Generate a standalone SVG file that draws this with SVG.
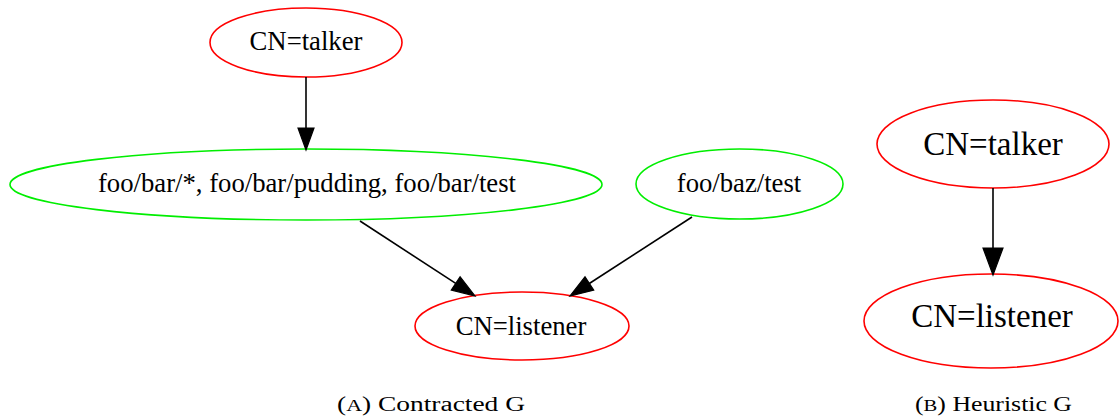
<svg xmlns="http://www.w3.org/2000/svg" width="1119" height="416" viewBox="0 0 1119 416">
<style>
.n{fill:none;stroke-width:1.6}
.r{stroke:#ff0000}
.g{stroke:#00ee00}
.e{stroke:#000;stroke-width:1.6;fill:none}
.h{fill:#000;stroke:#000;stroke-width:1.2}
</style>
<rect width="1119" height="416" fill="#fff"/>
<g id="a_talker">
<ellipse class="n r" cx="306" cy="42.5" rx="96" ry="34.5"/>
<text font-family="Liberation Serif, serif" font-size="26.7" text-anchor="middle" x="306" y="50">CN=talker</text>
</g>
<g id="a_foobar">
<ellipse class="n g" cx="306" cy="184.5" rx="296" ry="35.5"/>
<text font-family="Liberation Serif, serif" font-size="26.7" text-anchor="middle" x="307" y="192">foo/bar/*, foo/bar/pudding, foo/bar/test</text>
</g>
<g id="a_baz">
<ellipse class="n g" cx="739.5" cy="184" rx="103.5" ry="35"/>
<text font-family="Liberation Serif, serif" font-size="26.7" text-anchor="middle" x="739" y="192">foo/baz/test</text>
</g>
<g id="a_listener">
<ellipse class="n r" cx="522" cy="326" rx="107" ry="34"/>
<text font-family="Liberation Serif, serif" font-size="26.7" text-anchor="middle" x="521" y="335">CN=listener</text>
</g>
<g id="b_talker">
<ellipse class="n r" cx="993" cy="144" rx="116" ry="44" stroke-width="2"/>
<text font-family="Liberation Serif, serif" font-size="33" text-anchor="middle" x="993" y="155">CN=talker</text>
</g>
<g id="b_listener">
<ellipse class="n r" cx="991" cy="321" rx="127" ry="47" stroke-width="2"/>
<text font-family="Liberation Serif, serif" font-size="33" text-anchor="middle" x="992" y="327">CN=listener</text>
</g>
<g id="connectors">
<line class="e" x1="306" y1="77" x2="306" y2="128"/>
<polygon class="h" points="298,128 314,128 306,150"/>
<line class="e" x1="360" y1="221" x2="455.7" y2="283.4"/>
<polygon class="h" points="451.3,290.1 460.1,276.7 475,296"/>
<line class="e" x1="692" y1="217" x2="589.3" y2="283.5"/>
<polygon class="h" points="593.7,290.2 585,276.8 570,296"/>
<line class="e" x1="993" y1="188" x2="993" y2="248" stroke-width="2.2"/>
<polygon class="h" points="983,248 1003,248 993,275"/>
</g>
<g id="captions">
<text font-family="Liberation Serif, serif" font-size="20" x="337" y="411" textLength="188" lengthAdjust="spacingAndGlyphs">(<tspan font-size="16">A</tspan>) Contracted G</text>
<text font-family="Liberation Serif, serif" font-size="20" x="915" y="411" textLength="157" lengthAdjust="spacingAndGlyphs">(<tspan font-size="16">B</tspan>) Heuristic G</text>
</g>
</svg>
